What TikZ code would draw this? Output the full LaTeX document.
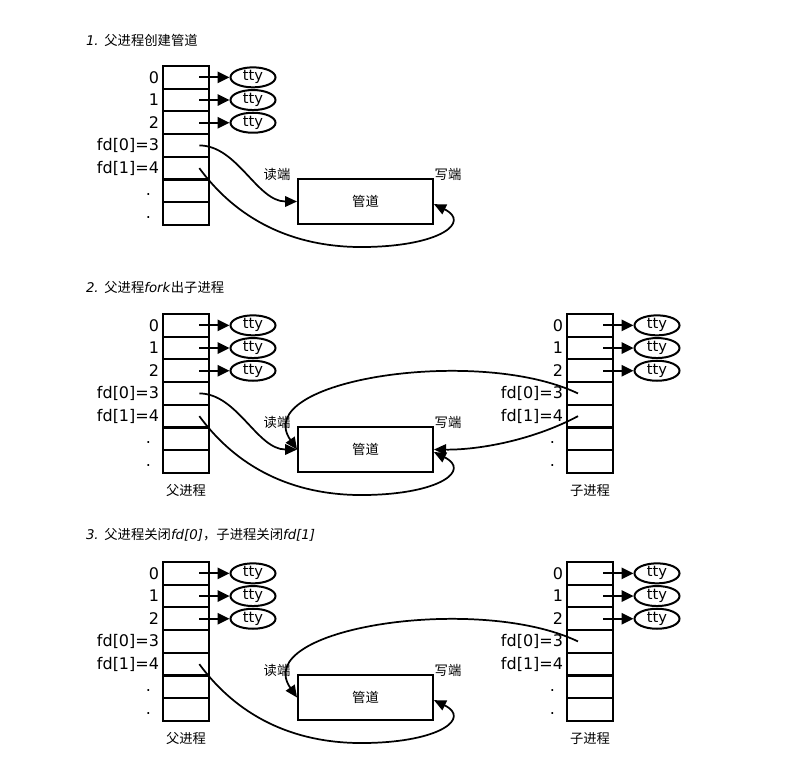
\documentclass[tikz,border=0pt]{standalone}
\usepackage{fontspec}
\setmainfont{DejaVu Sans}
\newfontfamily\cjk{Noto Sans CJK SC}
\usetikzlibrary{arrows.meta,shapes.geometric}

\begin{document}
\begin{tikzpicture}[x=0.75pt, y=-0.75pt, line width=1.5pt,
    cell/.style={draw, minimum width=34.5pt, minimum height=17pt, inner sep=0pt},
    tty/.style={draw, ellipse, minimum width=33.75pt, minimum height=15pt, inner sep=0pt,
        font=\fontsize{11}{12}\selectfont},
    pipe/.style={draw, minimum width=101.25pt, minimum height=33.75pt, inner sep=0pt,
        font=\cjk\fontsize{10}{12}\selectfont},
    lab/.style={inner sep=1.5pt, font=\fontsize{12}{14}\selectfont},
    zh/.style={inner sep=0pt, font=\cjk\fontsize{10}{12}\selectfont},
    fdarrow/.style={-{Triangle[length=9pt,width=8.5pt]}},
    pipearrow/.style={-{Triangle[length=9pt,width=8pt]}, line width=1.3pt}]
    \useasboundingbox (0,0) rectangle (799,759);
    % titles
    \node[anchor=west, inner sep=0pt, font=\fontsize{10}{12}\selectfont] (title1) at (85,40)
        {\textit{1.} {\cjk 父进程创建管道}};
    \node[anchor=west, inner sep=0pt, font=\fontsize{10}{12}\selectfont] (title2) at (85,287)
        {\textit{2.} {\cjk 父进程}\textit{fork}{\cjk 出子进程}};
    \node[anchor=west, inner sep=0pt, font=\fontsize{10}{12}\selectfont] (title3) at (85,535)
        {\textit{3.} {\cjk 父进程关闭}\textit{fd[0]}{\cjk ，子进程关闭}\textit{fd[1]}};
    % file descriptor tables
    \foreach \k/\oy in {1/0,2/248,3/496}
        \foreach \i in {0,...,6}
            \node[cell] (p\k-\i) at (186, 77.35+22.7*\i+\oy) {};
    \foreach \k/\oy in {2/248,3/496}
        \foreach \i in {0,...,6}
            \node[cell] (c\k-\i) at (590, 77.35+22.7*\i+\oy) {};
    \foreach \tb in {p1,p2,p3,c2,c3} {
        \foreach \t [count=\i from 0] in {0,1,2,fd[0]=3,fd[1]=4}
            \node[lab, left] at (\tb-\i.west) {\t};
        \foreach \i in {5,6}
            \node[lab, left, xshift=-6pt, yshift=-3pt] at (\tb-\i.west) {.};
        \foreach \i in {0,1,2} {
            \node[tty] (\tb-t\i) at ([xshift=50.25pt]\tb-\i.center) {tty};
            \draw[fdarrow] ([xshift=-8pt]\tb-\i.east) -- (\tb-t\i);
        }
    }
    % pipes
    \foreach \k/\oy in {1/0,2/248,3/496} {
        \node[pipe] (pipe\k) at (365.5, 201.5+\oy) {管道};
        \node[zh] (rd\k) at ([xshift=-15pt, yshift=3pt]pipe\k.north west) {读端};
        \node[zh] (wr\k) at ([xshift=10.5pt, yshift=3pt]pipe\k.north east) {写端};
        \coordinate (low\k) at ([yshift=-16.5pt]pipe\k.south);
    }
    \foreach \k in {2,3} {
        \node[zh, below] (pn\k) at ([yshift=-7pt]p\k-6.south) {父进程};
        \node[zh, below] (cn\k) at ([yshift=-7pt]c\k-6.south) {子进程};
    }
    % parent ends
    \foreach \k in {1,2}
        \draw[pipearrow] ([xshift=-8pt]p\k-3.east) .. controls +(38,0) and +(-40,0) .. (pipe\k.west);
    \foreach \k in {1,2,3}
        \draw[pipearrow] ([xshift=-8pt]p\k-4.east) .. controls +(42,57) and +(-65,1) .. (low\k)
            .. controls +(75,-1) and +(37,18) .. ([yshift=-2pt]pipe\k.east);
    % child ends
    \foreach \k in {2,3}
        \draw[pipearrow] ([xshift=9pt]c\k-3.west) .. controls +(-100,-48) and +(-48,-69.5) .. (pipe\k.west);
    \draw[pipearrow] ([xshift=9pt]c2-4.west) .. controls +(-45,24) and +(45,0.5) .. (pipe2.east);
\end{tikzpicture}
\end{document}
